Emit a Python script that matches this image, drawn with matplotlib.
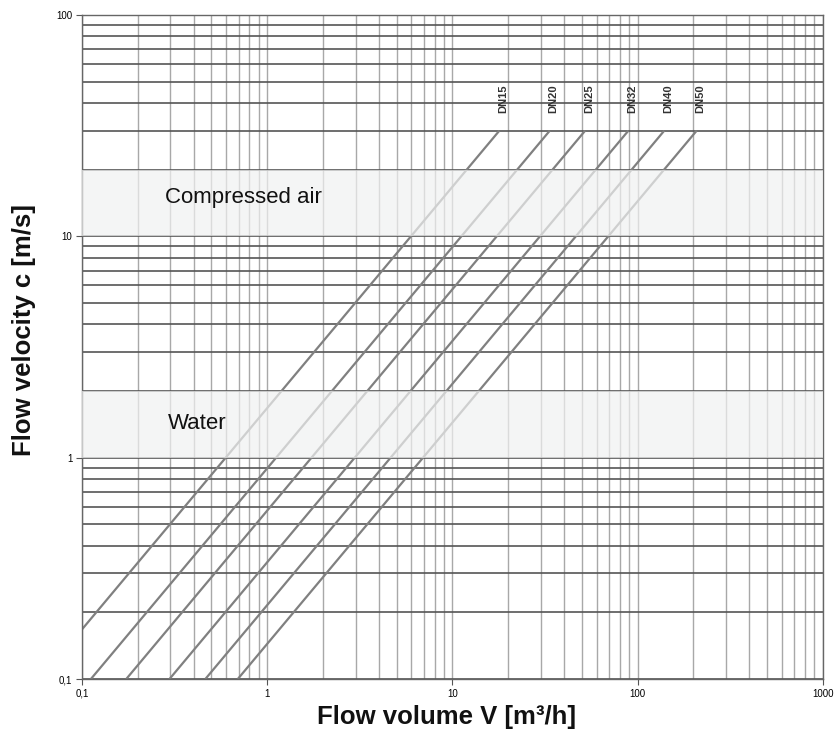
import matplotlib.pyplot as plt
from matplotlib.ticker import FixedLocator, FixedFormatter, NullFormatter
import numpy as np

dn_labels = ["DN15", "DN20", "DN25", "DN32", "DN40", "DN50"]
q_at_30 = [17.9, 33.5, 52.0, 89.0, 139.0, 208.0]
v_min, v_max = 0.1, 30.0

# Bereiche
bands = [("Compressed air", 10, 20, 0.28, 14.9), ("Water", 1, 2, 0.29, 1.43)]

x_ticks = [0.1, 1, 10, 100, 1000]
x_ticklabels = ["0,1", "1", "10", "100", "1000"]
y_ticks = [0.1, 1, 10, 100]
y_ticklabels = ["0,1", "1", "10", "100"]

plt.rcParams['font.family'] = ['Liberation Sans', 'DejaVu Sans']

fig = plt.figure(figsize=(8.35, 7.31), dpi=100)
ax = fig.add_axes([0.0982, 0.0711, 0.8874, 0.9084])
ax.set_xscale('log')
ax.set_yscale('log')
ax.set_xlim(0.1, 1000)
ax.set_ylim(0.1, 100)

# Gitter
minor_x = [m * 10.0 ** e for e in range(-1, 3) for m in range(1, 10)] + [1000]
minor_y = [m * 10.0 ** e for e in range(-1, 2) for m in range(1, 10)] + [100]
for xv in minor_x:
    ax.axvline(xv, color='#a8a8a8', lw=1.0, zorder=1)
for yv in minor_y:
    ax.axhline(yv, color='#555555', lw=1.2, zorder=1)

# Linien je Nennweite
for lab, q in zip(dn_labels, q_at_30):
    k = v_max / q
    qs = np.array([v_min / k, q])
    ax.plot(qs, k * qs, color='#808080', lw=1.6, zorder=2, solid_capstyle='butt')
    ax.text(q * 1.05, 42, lab, rotation=90, ha='center', va='center',
            fontsize=8, fontweight='bold', color='#333333', zorder=5)

for name, lo, hi, tx, ty in bands:
    ax.axhspan(lo, hi, color='#f0f1f1', alpha=0.7, zorder=3, lw=0)
    ax.text(tx, ty, name, fontsize=16, va='center', ha='left', color='#111111', zorder=5)

ax.xaxis.set_major_locator(FixedLocator(x_ticks))
ax.xaxis.set_major_formatter(FixedFormatter(x_ticklabels))
ax.yaxis.set_major_locator(FixedLocator(y_ticks))
ax.yaxis.set_major_formatter(FixedFormatter(y_ticklabels))
ax.xaxis.set_minor_formatter(NullFormatter())
ax.yaxis.set_minor_formatter(NullFormatter())
ax.tick_params(which='minor', length=0)
ax.tick_params(which='major', length=4, width=0.8, color='#555555', labelsize=7, pad=3)

for sp in ax.spines.values():
    sp.set_color('#666666')
    sp.set_linewidth(1.0)

fig.text(0.535, 0.019, "Flow volume V [m³/h]", fontsize=18.5, fontweight='bold',
         ha='center', va='center', color='#111111')
fig.text(0.029, 0.549, "Flow velocity c [m/s]", fontsize=18.5, fontweight='bold',
         ha='center', va='center', rotation=90, color='#111111')

fig.savefig("out.png", dpi=100)
